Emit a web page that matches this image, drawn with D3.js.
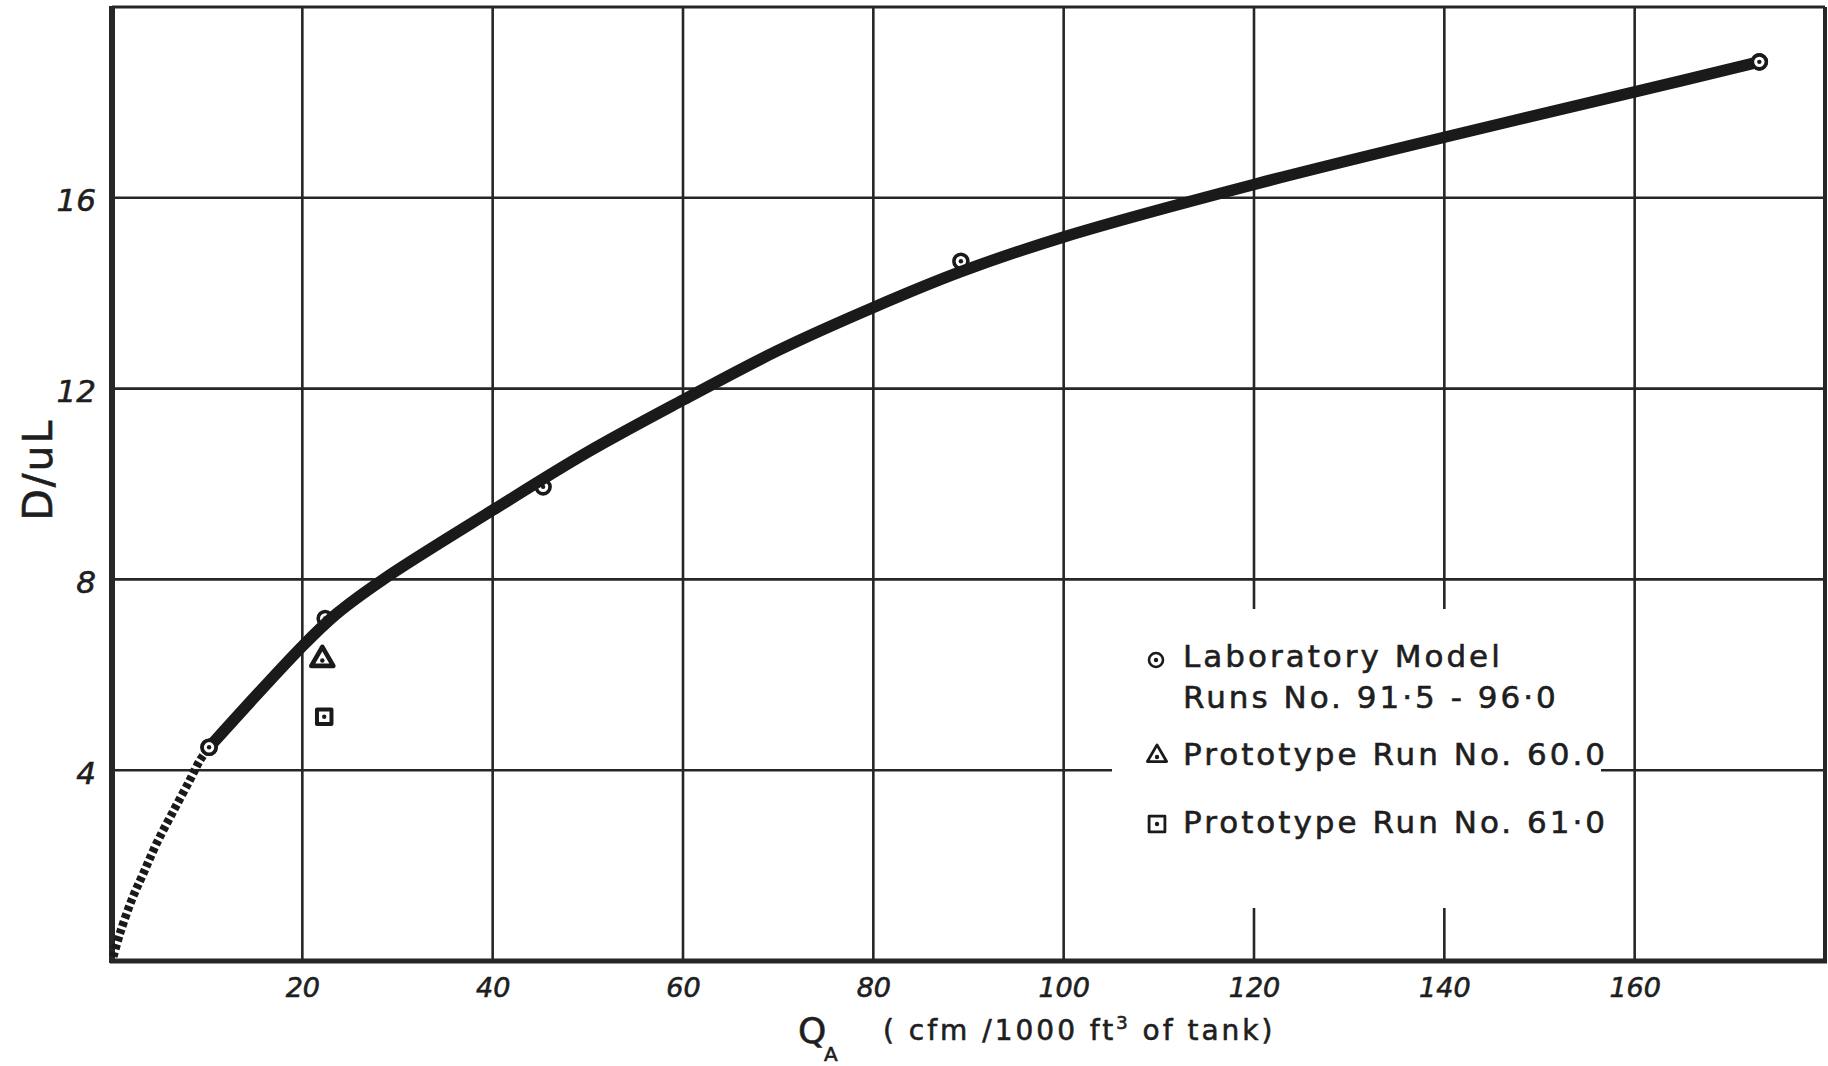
<!DOCTYPE html>
<html>
<head>
<meta charset="utf-8">
<script src="https://cdn.jsdelivr.net/npm/d3@7"></script>
<style>
  html, body { margin: 0; padding: 0; background: #fff; }
  svg { display: block; }
  .hand { font-family: "DejaVu Sans", "Liberation Sans", sans-serif; fill: #1e1e1e; stroke: #1e1e1e; stroke-width: 0.6; }
</style>
</head>
<body>
<svg id="chart" width="1828" height="1066"></svg>
<script>
// D/uL against QA -- hand-drawn style line chart with a dashed extrapolation
const xTicks = [20, 40, 60, 80, 100, 120, 140, 160];
const yTicks = [4, 8, 12, 16];

// faired curve (solid)
const curveQ = [10.2, 20, 23.6, 28.5, 40, 50, 60, 70, 80, 89.2, 100, 120, 140, 160, 173.1];
const curveD = [4.48, 6.6, 7.28, 8.0, 9.45, 10.67, 11.76, 12.8, 13.7, 14.45, 15.18, 16.28, 17.27, 18.22, 18.85];

// dashed extrapolation down to the origin
const extrapQ = [0.14, 0.84, 2.07, 3.3, 4.7, 6.44, 8.2, 9.25, 10.2];
const extrapD = [0.09, 0.58, 1.28, 1.84, 2.47, 3.14, 3.8, 4.21, 4.48];

// laboratory model runs 91.5 - 96.0
const labQ = [10.2, 22.4, 45.3, 89.2, 173.1];
const labD = [4.48, 7.18, 9.94, 14.67, 18.85];

// prototype runs
const proto60Q = [22.1];
const proto60D = [6.32];
const proto61Q = [22.3];
const proto61D = [5.12];

const legendLines = [
  'Laboratory Model',
  'Runs No. 91\u00b75 - 96\u00b70',
  'Prototype Run No. 60.0',
  'Prototype Run No. 61\u00b70'
];

const INK = '#262626';
const PLOT = { left: 112, right: 1825, top: 7, bottom: 961 };

const svg = d3.select('#chart');

const x = d3.scaleLinear().domain([0, 180]).range([PLOT.left, PLOT.right]);
const y = d3.scaleLinear().domain([0, 20]).range([PLOT.bottom, PLOT.top]);

// Grid
const grid = svg.append('g').attr('stroke', INK).attr('stroke-width', 2.6);
grid.selectAll('line.vx')
  .data(xTicks)
  .join('line')
  .attr('x1', d => x(d)).attr('x2', d => x(d))
  .attr('y1', y(20)).attr('y2', y(0));
grid.selectAll('line.hy')
  .data(yTicks)
  .join('line')
  .attr('x1', x(0)).attr('x2', x(180))
  .attr('y1', d => y(d)).attr('y2', d => y(d));

// Frame: heavy left + bottom axes, lighter top + right
svg.append('line').attr('x1', x(0)).attr('x2', x(180)).attr('y1', y(20)).attr('y2', y(20))
  .attr('stroke', INK).attr('stroke-width', 3);
svg.append('line').attr('x1', x(180)).attr('x2', x(180)).attr('y1', y(20)).attr('y2', y(0))
  .attr('stroke', INK).attr('stroke-width', 4);
svg.append('line').attr('x1', x(0) - 2).attr('x2', x(180) + 2).attr('y1', y(0)).attr('y2', y(0))
  .attr('stroke', INK).attr('stroke-width', 5);
svg.append('line').attr('x1', x(0)).attr('x2', x(0)).attr('y1', y(20) - 1).attr('y2', y(0) + 2)
  .attr('stroke', INK).attr('stroke-width', 6);

// Tick labels via axes (no domain / tick lines)
const xAxis = svg.append('g')
  .attr('transform', `translate(0,${y(0)})`)
  .call(d3.axisBottom(x).tickValues(xTicks).tickSize(0).tickPadding(16));
const yAxis = svg.append('g')
  .attr('transform', `translate(${x(0)},0)`)
  .call(d3.axisLeft(y).tickValues(yTicks).tickSize(0).tickPadding(16));
[xAxis, yAxis].forEach(a => {
  a.select('.domain').remove();
  a.selectAll('text')
    .attr('class', 'hand')
    .attr('fill', '#1e1e1e')
    .style('font-style', 'italic');
});
xAxis.selectAll('text').attr('font-size', 27).attr('dy', '0.75em');
yAxis.selectAll('text').attr('font-size', 31).attr('dy', '0.42em');

// Axis titles
svg.append('text')
  .attr('class', 'hand')
  .attr('transform', `translate(52,${y(10.3)}) rotate(-90)`)
  .attr('text-anchor', 'middle')
  .attr('font-size', 41)
  .attr('letter-spacing', 2)
  .text('D/uL');

svg.append('text').attr('class', 'hand')
  .attr('x', 798).attr('y', 1043).attr('font-size', 36).text('Q');
svg.append('text').attr('class', 'hand')
  .attr('x', 824).attr('y', 1061).attr('font-size', 20).text('A');
const xTitle = svg.append('text').attr('class', 'hand')
  .attr('x', 883).attr('y', 1040).attr('font-size', 28)
  .attr('letter-spacing', 3);
xTitle.append('tspan').text('( cfm /1000 ft');
xTitle.append('tspan').attr('dy', -11).attr('font-size', 18).text('3');
xTitle.append('tspan').attr('dy', 11).text(' of tank)');

// Legend: white patch over the grid, then symbols and text
const legend = svg.append('g');
legend.append('rect')
  .attr('x', 1112).attr('y', 609).attr('width', 489).attr('height', 299)
  .attr('fill', '#fff');

const circleMark = (g, cx, cy, r, sw) => {
  g.append('circle').attr('cx', cx).attr('cy', cy).attr('r', r)
    .attr('fill', '#fff').attr('stroke', '#1a1a1a').attr('stroke-width', sw);
  g.append('circle').attr('cx', cx).attr('cy', cy).attr('r', 2.2).attr('fill', '#1a1a1a');
};
const symbolMark = (g, type, size, cx, cy, sw) => {
  g.append('path')
    .attr('d', d3.symbol(type, size)())
    .attr('transform', `translate(${cx},${cy})`)
    .attr('fill', '#fff').attr('stroke', '#1a1a1a').attr('stroke-width', sw)
    .attr('stroke-linejoin', 'round');
  g.append('circle').attr('cx', cx).attr('cy', cy + (type === d3.symbolTriangle ? 1 : 0))
    .attr('r', 2.2).attr('fill', '#1a1a1a');
};

const legendBase = [667, 708, 765, 833];
legend.selectAll('text.leg')
  .data(legendLines)
  .join('text')
  .attr('class', 'hand')
  .attr('x', 1183)
  .attr('y', (d, i) => legendBase[i])
  .attr('font-size', 31)
  .attr('letter-spacing', 3)
  .text(d => d);
circleMark(legend, 1156, 660, 7, 2.6);
symbolMark(legend, d3.symbolTriangle, 160, 1157, 756, 2.8);
symbolMark(legend, d3.symbolSquare, 250, 1157, 824, 2.8);

// Data markers for the lab runs sit under the curve
const labPts = labQ.map((q, i) => [q, labD[i]]);
labPts.forEach(p => circleMark(svg, x(p[0]), y(p[1]), 7, 3.6));

// Prototype markers
proto60Q.forEach((q, i) => symbolMark(svg, d3.symbolTriangle, 210, x(q), y(proto60D[i]), 4.6));
proto61Q.forEach((q, i) => symbolMark(svg, d3.symbolSquare, 210, x(q), y(proto61D[i]), 4));

// Curves
const line = d3.line()
  .x(d => x(d[0]))
  .y(d => y(d[1]))
  .curve(d3.curveCatmullRom.alpha(0.5));

svg.append('path')
  .datum(extrapQ.map((q, i) => [q, extrapD[i]]))
  .attr('d', line)
  .attr('fill', 'none')
  .attr('stroke', '#1a1a1a')
  .attr('stroke-width', 8.5)
  .attr('stroke-dasharray', '5,3');

svg.append('path')
  .datum(curveQ.map((q, i) => [q, curveD[i]]))
  .attr('d', line)
  .attr('fill', 'none')
  .attr('stroke', '#1a1a1a')
  .attr('stroke-width', 11.5)
  .attr('stroke-linecap', 'round');

// End markers are drawn over the curve ends
[labPts[0], labPts[labPts.length - 1]].forEach(p => circleMark(svg, x(p[0]), y(p[1]), 7, 3.6));
</script>
</body>
</html>
